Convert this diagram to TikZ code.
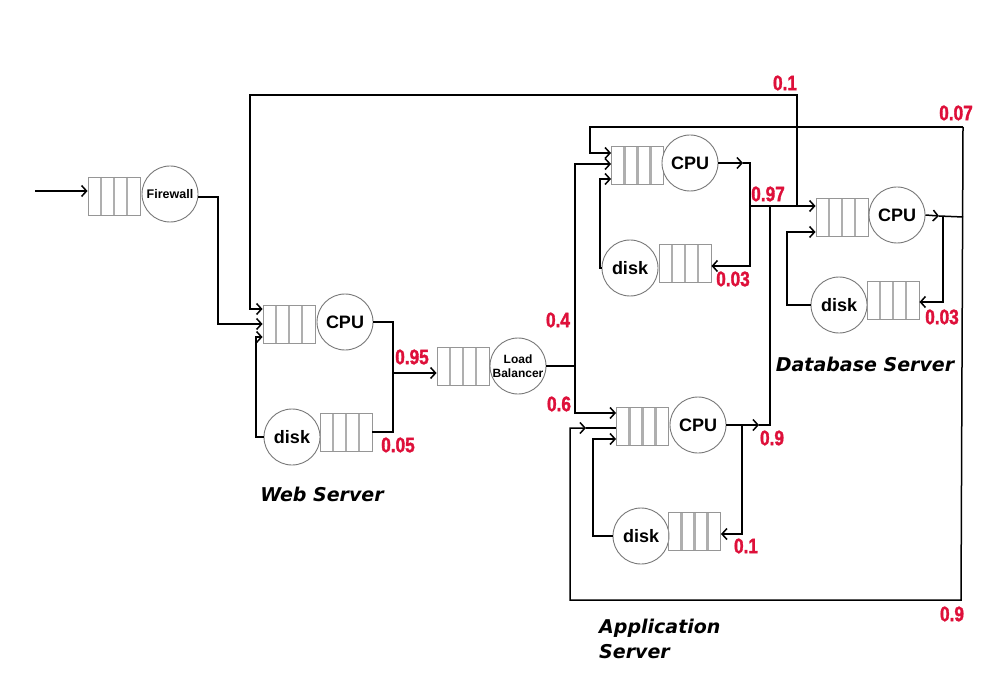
\documentclass[tikz,border=0pt]{standalone}
\usepackage{fontspec}
\setmainfont{Liberation Sans}
\newfontfamily\lblfont{Liberation Sans}[FakeStretch=0.82,FakeBold=1.6]
\newfontfamily\srvfont{DejaVu Sans}
\usetikzlibrary{arrows.meta,calc}
\definecolor{lblred}{RGB}{222,16,58}
\definecolor{qgray}{RGB}{150,150,150}
\definecolor{lgray}{RGB}{175,175,175}
\definecolor{cgray}{RGB}{120,120,120}
\begin{document}
\begin{tikzpicture}[x=1pt,y=-1pt,
  >={Straight Barb[length=5pt,width=11pt]},
  conn/.style={line width=1.5pt,black},
  queue/.style={draw=qgray,line width=0.9pt,minimum width=52pt,minimum height=38pt,inner sep=0pt,
    path picture={\foreach \f in {0.25,0.5,0.75}{\draw[lgray,line width=2.2pt]
      ($(path picture bounding box.north west)!\f!(path picture bounding box.north east)$) --
      ($(path picture bounding box.south west)!\f!(path picture bounding box.south east)$);}}},
  srv/.style={circle,draw=cgray,line width=0.9pt,minimum size=56pt,inner sep=0pt,fill=white,
    font=\bfseries\fontsize{18}{18}\selectfont},
  smallsrv/.style={srv,font=\bfseries\fontsize{12}{14}\selectfont,align=center},
  prob/.style={text=lblred,font=\lblfont\bfseries\fontsize{21}{21}\selectfont,inner sep=0pt},
  title/.style={font=\srvfont\bfseries\itshape\fontsize{19}{25}\selectfont,inner sep=0pt}]
\useasboundingbox[fill=white] (0,0) rectangle (1000,700);

% ---------- nodes ----------
\node[queue] (fwq) at (114,196) {};
\node[srv,font=\bfseries\fontsize{12.5}{13}\selectfont] (fwc) at (170,194) {Firewall};

\node[queue] (wq) at (289,324) {};
\node[srv] (wc) at (345,322) {CPU};
\node[srv] (wd) at (292,437) {disk};
\node[queue] (wdq) at (346,432) {};

\node[queue] (lbq) at (463,366) {};
\node[smallsrv] (lbc) at (518,366) {Load\\Balancer};

\node[queue] (a1q) at (637.5,165.5) {};
\node[srv] (a1c) at (690,163) {CPU};
\node[srv] (a1d) at (630,268) {disk};
\node[queue] (a1dq) at (685,263.5) {};

\node[queue] (a2q) at (642.5,426.5) {};
\node[srv] (a2c) at (698,425) {CPU};
\node[srv] (a2d) at (641,536) {disk};
\node[queue] (a2dq) at (694.5,531.5) {};

\node[queue] (dq) at (842,217.5) {};
\node[srv] (dc) at (897,215) {CPU};
\node[srv] (dd) at (839,305) {disk};
\node[queue] (ddq) at (893,300.5) {};

% ---------- coordinates ----------
\coordinate (in) at (35,191);
\coordinate (f1) at (218,197);
\coordinate (f2) at (218,324);
\coordinate (t0) at (797,206);
\coordinate (t1) at (797,95);
\coordinate (t2) at (250,95);
\coordinate (t3) at (250,309);
\coordinate (wd1) at (256,437);
\coordinate (wd2) at (256,337);
\coordinate (w1) at (393,322);
\coordinate (w2) at (393,432);
\coordinate (w3) at (393,373);
\coordinate (l1) at (575,366);
\coordinate (l2) at (575,164);
\coordinate (l3) at (575,413);
\coordinate (r1) at (963,127);
\coordinate (r2) at (590,127);
\coordinate (r3) at (590,153);
\coordinate (r4) at (961,600);
\coordinate (b1) at (570,600);
\coordinate (b2) at (570,428);
\coordinate (b3) at (586,428);
\coordinate (ad1) at (600,268);
\coordinate (ad2) at (600,179);
\coordinate (m1) at (743,163);
\coordinate (j1) at (750,163);
\coordinate (j2) at (750,266);
\coordinate (j3) at (750,206);
\coordinate (k1) at (742,425);
\coordinate (m2) at (759,425);
\coordinate (k2) at (770,425);
\coordinate (k3) at (770,206);
\coordinate (k4) at (742,534);
\coordinate (bd1) at (593,536);
\coordinate (bd2) at (593,439);
\coordinate (m3) at (939,216);
\coordinate (dj) at (963,217);
\coordinate (e1) at (943,216);
\coordinate (e2) at (943,302);
\coordinate (dd1) at (787,305);
\coordinate (dd2) at (787,232);

% ---------- connectors ----------
\draw[conn,->] (in) -- (in -| fwq.west);
\draw[conn,->] (fwc.east |- f1) -- (f1) -- (f2) -- (f2 -| wq.west);
\draw[conn,->] (t0) -- (t1) -- (t2) -- (t3) -- (t3 -| wq.west);
\draw[conn,->] (wd.west) -- (wd1) -- (wd2) -- (wd2 -| wq.west);
\draw[conn] (wc.east) -- (w1) -- (w2) -- (w2 -| wdq.east);
\draw[conn,->] (w3) -- (w3 -| lbq.west);

\draw[conn] (lbc.east) -- (l1);
\draw[conn,->] (l1) -- (l2) -- (l2 -| a1q.west);
\draw[conn,->] (l1) -- (l3) -- (l3 -| a2q.west);

\draw[conn,->] (r1) -- (r2) -- (r3) -- (r3 -| a1q.west);
\draw[conn,->] (r1) -- (r4) -- (b1) -- (b2) -- (b3);
\draw[conn] (b3) -- (b3 -| a2q.west);

\draw[conn,->] (a1d.west) -- (ad1) -- (ad2) -- (ad2 -| a1q.west);
\draw[conn,->] (a1c.east) -- (m1);
\draw[conn,->] (m1) -- (j1) -- (j2) -- (j2 -| a1dq.east);
\draw[conn,->] (j3) -- (j3 -| dq.west);

\draw[conn,->] (a2c.east) -- (m2);
\draw[conn] (m2) -- (k2) -- (k3);
\draw[conn,->] (k1) -- (k4) -- (k4 -| a2dq.east);
\draw[conn,->] (a2d.west) -- (bd1) -- (bd2) -- (bd2 -| a2q.west);

\draw[conn,->] (dc.east) -- (m3);
\draw[conn] (m3) -- (dj);
\draw[conn,->] (e1) -- (e2) -- (e2 -| ddq.east);
\draw[conn,->] (dd.west) -- (dd1) -- (dd2) -- (dd2 -| dq.west);

% ---------- probability labels ----------
\node[prob] (p1) at (785,83) {0.1};
\node[prob] (p2) at (956,113) {0.07};
\node[prob] (p3) at (768,194) {0.97};
\node[prob] (p4) at (733,279) {0.03};
\node[prob] (p5) at (942,317) {0.03};
\node[prob] (p6) at (412,357) {0.95};
\node[prob] (p7) at (398,445) {0.05};
\node[prob] (p8) at (558,320) {0.4};
\node[prob] (p9) at (559,404) {0.6};
\node[prob] (p10) at (772,438) {0.9};
\node[prob] (p11) at (746,546) {0.1};
\node[prob] (p12) at (952,614) {0.9};

% ---------- titles ----------
\node[title] (tw) at (322,494) {Web Server};
\node[title] (td) at (865,364) {Database Server};
\node[title,align=left,anchor=north west] (ta) at (599,619) {Application\\Server};
\end{tikzpicture}
\end{document}
